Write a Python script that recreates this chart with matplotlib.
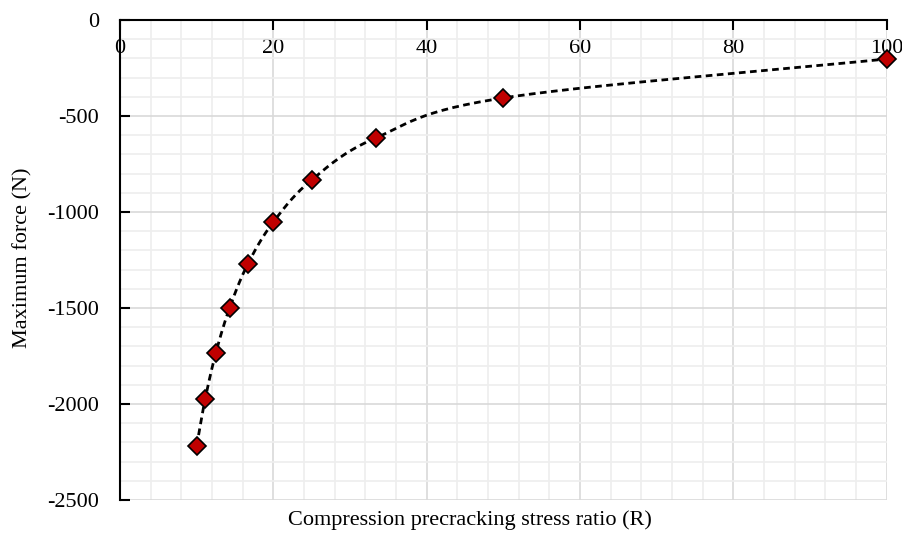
import numpy as np
import matplotlib.pyplot as plt
from matplotlib.ticker import MultipleLocator

# stress ratio R and max force
ratio = [10, 11.11, 12.5, 14.29, 16.67, 20, 25, 33.33, 50, 100]
max_force = [-2219, -1974, -1734, -1500, -1271, -1052, -833, -615, -406, -203]

plt.rcParams['font.family'] = ['Liberation Serif', 'DejaVu Serif']
plt.rcParams['font.size'] = 16
plt.rcParams['axes.unicode_minus'] = False


def smooth(x, y, n=30):
    # catmull-rom curve through the points, like Excel's smoothed line
    x = np.asarray(x, float)
    y = np.asarray(y, float)
    px = np.concatenate([[2 * x[0] - x[1]], x, [2 * x[-1] - x[-2]]])
    py = np.concatenate([[2 * y[0] - y[1]], y, [2 * y[-1] - y[-2]]])
    t = np.linspace(0, 1, n)
    xs, ys = [], []
    for i in range(1, len(px) - 2):
        for p, out in ((px, xs), (py, ys)):
            p0, p1, p2, p3 = p[i - 1], p[i], p[i + 1], p[i + 2]
            out.extend(0.5 * ((2 * p1) + (-p0 + p2) * t
                              + (2 * p0 - 5 * p1 + 4 * p2 - p3) * t ** 2
                              + (-p0 + 3 * p1 - 3 * p2 + p3) * t ** 3))
    return xs, ys


fig = plt.figure(figsize=(9.03, 5.36), dpi=100)
ax = fig.add_axes([0.1329, 0.0672, 0.849, 0.8955])

sx, sy = smooth(ratio, max_force)
ax.plot(sx, sy, color='black', lw=2.0, ls=(0, (2.4, 1.6)), zorder=3)
ax.plot(ratio, max_force, ls='none', marker='D', ms=9.5, mfc='#C00000',
        mec='black', mew=1.2, zorder=4, clip_on=False)

ax.set_xlim(0, 100)
ax.set_ylim(-2500, 0)
ax.xaxis.set_major_locator(MultipleLocator(20))
ax.xaxis.set_minor_locator(MultipleLocator(4))
ax.yaxis.set_major_locator(MultipleLocator(500))
ax.yaxis.set_minor_locator(MultipleLocator(100))

ax.grid(which='major', color='#d9d9d9', lw=1.2)
ax.grid(which='minor', color='#eeeeee', lw=1.2)
ax.set_axisbelow(True)

ax.spines['bottom'].set_position(('data', 0))
ax.spines['right'].set_visible(False)
ax.spines['top'].set_visible(False)
ax.spines['bottom'].set_linewidth(1.5)
ax.spines['left'].set_linewidth(1.5)
ax.tick_params(axis='x', which='major', direction='out', length=7, width=1.5, pad=7)
ax.tick_params(axis='y', which='major', direction='in', length=7, width=1.5, pad=15)
ax.tick_params(which='minor', length=0)

fig.text(0.52, 0.03, 'Compression precracking stress ratio (R)', ha='center', va='center')
fig.text(0.025, 0.52, 'Maximum force (N)', ha='center', va='center', rotation=90)

fig.savefig('out.png', dpi=100)
